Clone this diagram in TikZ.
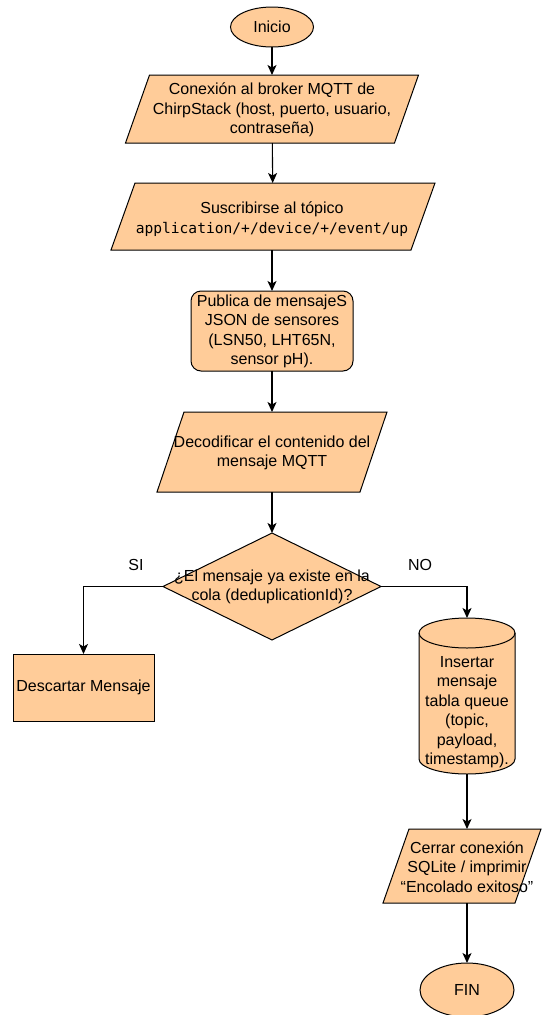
\documentclass[tikz,border=0pt]{standalone}
\usepackage{fontspec}
\setmainfont{Liberation Sans}
\newfontfamily\codefont{DejaVu Sans Mono}
\usetikzlibrary{shapes.geometric,arrows.meta}
\definecolor{boxfill}{HTML}{FFCC99}
\begin{document}
\begin{tikzpicture}[x=1pt,y=-1pt,
  shapeline/.style={draw=black,line width=1pt,fill=boxfill},
  holder/.style={rectangle,inner sep=0pt,outer sep=0pt},
  txt/.style={inner sep=0pt,align=center,font=\fontsize{16}{19.5}\selectfont},
  term/.style={shapeline,ellipse,inner sep=0pt,outer sep=0pt},
  arr/.style={line width=1.1pt,-{Stealth[length=10pt,width=9pt,inset=2.5pt]}},
]
\useasboundingbox (0,0) rectangle (541,1015);

% --- shape placeholders (sizes fix the outlines) ---
\node[term,minimum width=83pt,minimum height=40pt] (start) at (272,27) {};
\node[holder,minimum width=269pt,minimum height=68pt] (p1) at (272,109) {};
\node[holder,minimum width=300pt,minimum height=67pt] (p2) at (273,216.5) {};
\node[shapeline,holder,rounded corners=10pt,minimum width=162pt,minimum height=80pt] (pub) at (272,331) {};
\node[holder,minimum width=203pt,minimum height=80pt] (p3) at (272,452) {};
\node[shapeline,diamond,inner sep=0pt,outer sep=0pt,minimum width=218pt,minimum height=107pt] (dec) at (272,586.5) {};
\node[shapeline,holder,minimum width=141pt,minimum height=67pt] (discard) at (83.5,687.5) {};
\node[holder,minimum width=96pt,minimum height=156pt] (cyl) at (467,696) {};
\node[holder,minimum width=132pt,minimum height=74pt] (p4) at (462,866) {};
\node[term,minimum width=94pt,minimum height=54pt] (fin) at (467,990) {};

% --- parallelogram outlines ---
\draw[shapeline] ([xshift=12pt]p1.north west) -- ([xshift=12pt]p1.north east)
  -- ([xshift=-12pt]p1.south east) -- ([xshift=-12pt]p1.south west) -- cycle;
\draw[shapeline] ([xshift=12pt]p2.north west) -- ([xshift=12pt]p2.north east)
  -- ([xshift=-12pt]p2.south east) -- ([xshift=-12pt]p2.south west) -- cycle;
\draw[shapeline] ([xshift=13.5pt]p3.north west) -- ([xshift=13.5pt]p3.north east)
  -- ([xshift=-13.5pt]p3.south east) -- ([xshift=-13.5pt]p3.south west) -- cycle;
\draw[shapeline] ([xshift=13pt]p4.north west) -- ([xshift=13pt]p4.north east)
  -- ([xshift=-13pt]p4.south east) -- ([xshift=-13pt]p4.south west) -- cycle;

% --- database cylinder ---
\draw[shapeline] ([yshift=-15pt]cyl.north west) -- ([yshift=15pt]cyl.south west)
  arc[start angle=180,end angle=360,x radius=48pt,y radius=15pt]
  -- ([yshift=-15pt]cyl.north east)
  arc[start angle=0,end angle=180,x radius=48pt,y radius=15pt] -- cycle;
\draw[line width=1pt] ([yshift=-15pt]cyl.north west)
  arc[start angle=180,end angle=360,x radius=48pt,y radius=15pt];

% --- texts ---
\node[txt] (tstart) at (start) {Inicio};
\node[txt] (t1) at (272,110) {Conexión al broker MQTT de\\ChirpStack (host, puerto, usuario,\\contraseña)};
\node[txt] (t2) at (272,219) {Suscribirse al tópico\\{\codefont\fontsize{14.6}{19.5}\selectfont application/+/device/+/event/up}};
\node[txt] (t3) at (272,331.5) {Publica de mensajeS\\JSON de sensores\\ (LSN50, LHT65N,\\sensor pH).};
\node[txt] (t4) at (272,453) {Decodificar el contenido del\\mensaje MQTT};
\node[txt] (t5) at (272,587) {¿El mensaje ya existe en la\\cola (deduplicationId)?};
\node[txt] (t6) at (discard) {Descartar Mensaje};
\node[txt] (t7) at (467,712) {Insertar\\mensaje\\tabla queue\\(topic,\\payload,\\timestamp).};
\node[txt] (t8) at (467,867) {Cerrar conexión\\SQLite / imprimir\\“Encolado exitoso”};
\node[txt] (tfin) at (fin) {FIN};
\node[txt] (lsi) at (136,565) {SI};
\node[txt] (lno) at (420,565) {NO};

% --- connectors ---
\draw[arr] (start) -- (p1);
\draw[arr] (p1) -- (p2);
\draw[arr] (p2.south -| pub) -- (pub);
\draw[arr] (pub) -- (p3);
\draw[arr] (p3) -- (dec);
\draw[arr] (dec.west) -| (discard.north);
\draw[arr] (dec.east) -| (cyl.north);
\draw[arr] (cyl.south) -- (cyl.south |- p4.north);
\draw[arr] (cyl.south |- p4.south) -- (fin);
\end{tikzpicture}
\end{document}
